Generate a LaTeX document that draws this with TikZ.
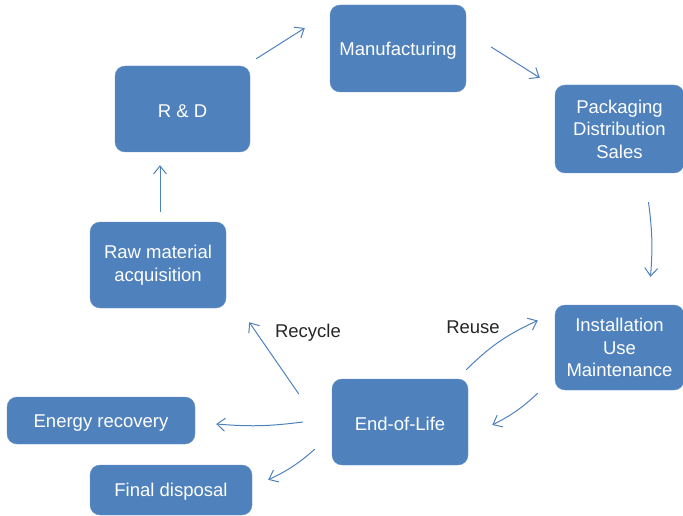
\documentclass[tikz,border=0pt]{standalone}
\usepackage{fontspec}
\setmainfont{Liberation Sans}
\usetikzlibrary{arrows.meta,positioning}
\definecolor{boxblue}{RGB}{79,129,189}

\begin{document}
\begin{tikzpicture}[x=1pt, y=-1pt,
		stage/.style = {fill=boxblue, draw=boxblue!85!white, rounded corners=10pt, text=white,
			align=center, inner sep=0pt, font=\fontsize{18.5}{22.5}\selectfont,
			execute at begin node={\rule{0pt}{17.5pt}}},
		flow/.style = {draw=boxblue, line width=1pt, -{Straight Barb[length=8pt,width=13pt]}},
		tag/.style = {text=black!85, font=\fontsize{18.5}{22.5}\selectfont}]
		\useasboundingbox (0,0) rectangle (683,516);
		\node [stage, minimum width=136pt, minimum height=87pt] (mf) at (398,48.5) {Manufacturing};
		\node [stage, minimum width=135pt, minimum height=86pt] (rd) at (182.5,109) {R \& D};
		\node [stage, minimum width=129pt, minimum height=88pt] (pk) at (619.5,129) {Packaging\\Distribution\\Sales};
		\node [stage, minimum width=129pt, minimum height=85pt] (in) at (619.5,347.5) {Installation\\Use\\Maintenance};
		\node [stage, minimum width=136pt, minimum height=86pt] (rm) at (158,265) {Raw material\\acquisition};
		\node [stage, minimum width=136pt, minimum height=86pt] (el) at (400,422) {End-of-Life};
		\node [stage, minimum width=188pt, minimum height=47pt] (er) at (101,420.5) {Energy recovery};
		\node [stage, minimum width=162pt, minimum height=50pt] (fd) at (171,490) {Final disposal};
		\node [tag] (recycle) at (308,332.5) {Recycle};
		\node [tag] (reuse) at (473,327.5) {Reuse};
		\draw [flow] ([shift={(6,-7)}]rd.north east) -- ([shift={(-25,-20.5)}]mf.west);
		\draw [flow] ([shift={(25,-1.5)}]mf.east) -- ([shift={(-15,-7)}]pk.north west);
		\draw [flow] ([shift={(29,29)}]pk.south) to [bend left=6] ([shift={(31,-28)}]in.north);
		\draw [flow] ([shift={(-17,3)}]in.south west) to [bend left=8] ([shift={(24,3)}]el.east);
		\draw [flow] ([shift={(-2,-9)}]el.north east) to [bend left=10] ([shift={(-17,-27)}]in.west);
		\draw [flow] ([shift={(-33,-28)}]el.west) -- ([shift={(23,14)}]rm.south east);
		\draw [flow] ([shift={(-29,0)}]el.west) to [bend left=6] ([shift={(21,3.5)}]er.east);
		\draw [flow] ([shift={(-17,-16)}]el.south west) to [bend left=8] ([shift={(16,15)}]fd.north east);
		\draw [flow] ([shift={(2,-10)}]rm.north) -- ([shift={(-22.5,13)}]rd.south);
	\end{tikzpicture}
\end{document}
